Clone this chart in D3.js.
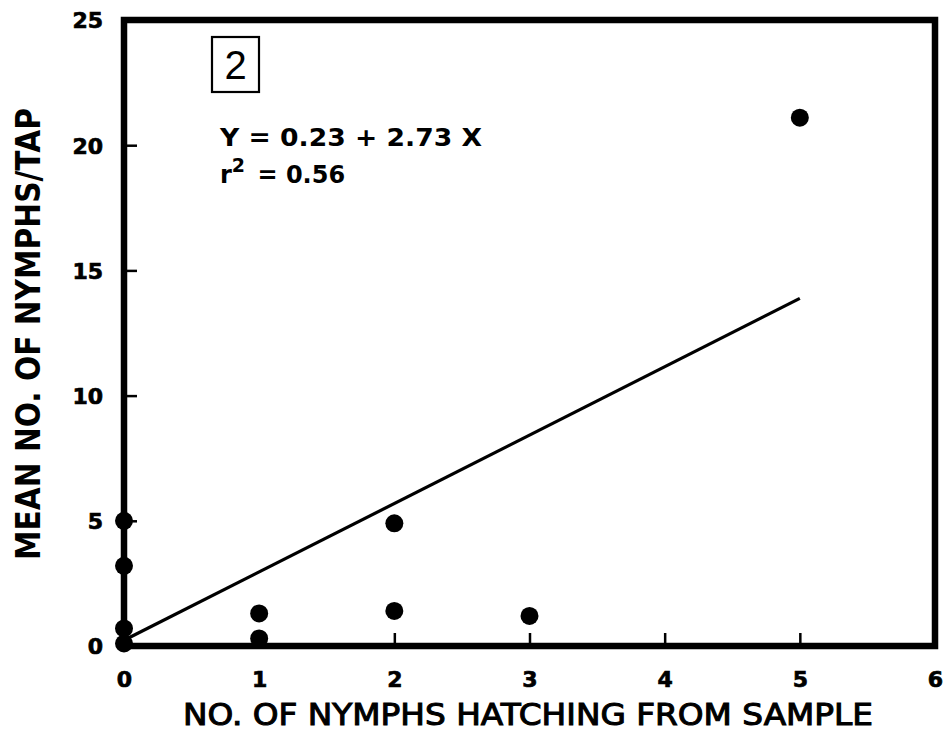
<!DOCTYPE html>
<html>
<head>
<meta charset="utf-8">
<script src="https://cdn.jsdelivr.net/npm/d3@7"></script>
<style>
  html, body { margin: 0; padding: 0; background: #fff; }
  svg { display: block; }
  text { fill: #000; }
</style>
</head>
<body>
<svg id="chart" width="944" height="735"></svg>
<script>
// Nymph counts: hatched from sample (x) vs mean nymphs per tap (y)
const hatched   = [0, 0, 0, 0, 1, 1, 2, 2, 3, 5];
const meanPerTap = [5.0, 3.2, 0.7, 0.1, 1.3, 0.3, 4.9, 1.4, 1.2, 21.1];
const xTicks = [0, 1, 2, 3, 4, 5, 6];
const yTicks = [0, 5, 10, 15, 20, 25];
// Fitted regression Y = a + b X, drawn over the observed range of X
const intercept = 0.23;
const slope = 2.73;
const fitRange = [0, 5];
const panelLabel = "2";
const equationLines = ["Y = 0.23 + 2.73 X", "r² = 0.56"];
const xTitle = "NO. OF NYMPHS HATCHING FROM SAMPLE";
const yTitle = "MEAN NO. OF NYMPHS/TAP";

const svg = d3.select("#chart");
const plotLeft = 124, plotRight = 935, plotTop = 20, plotBottom = 646;

const x = d3.scaleLinear().domain([0, 6]).range([plotLeft, plotRight]);
const y = d3.scaleLinear().domain([0, 25]).range([plotBottom, plotTop]);

const font = "'DejaVu Sans', 'Liberation Sans', sans-serif";

// Inward ticks on the bottom and left edges
const xAxis = d3.axisBottom(x).tickValues(xTicks).tickSize(-13).tickFormat(d3.format("d"));
const yAxis = d3.axisLeft(y).tickValues(yTicks).tickSize(-13).tickFormat(d3.format("d"));

const gx = svg.append("g").attr("transform", `translate(0,${plotBottom})`).call(xAxis);
const gy = svg.append("g").attr("transform", `translate(${plotLeft},0)`).call(yAxis);

[gx, gy].forEach(g => {
  g.attr("font-size", null).attr("font-family", null);
  g.select(".domain").remove();
  g.selectAll(".tick line").attr("stroke", "#000").attr("stroke-width", 2.5);
  g.selectAll(".tick text")
    .style("font-family", font)
    .style("font-weight", "bold")
    .style("font-size", "22px")
    .attr("stroke", "#000").attr("stroke-width", 0.7)
    .attr("fill", "#000");
});
gx.selectAll(".tick text").attr("dy", 0).attr("y", 41);
gx.selectAll(".tick line").filter(d => d === 0 || d === 6).remove();
gy.selectAll(".tick text").attr("x", -21).attr("dy", "0.36em");
gy.selectAll(".tick line").filter(d => d === 0 || d === 25).remove();

// Heavy plot frame
svg.append("rect")
  .attr("x", plotLeft).attr("y", plotTop)
  .attr("width", plotRight - plotLeft).attr("height", plotBottom - plotTop)
  .attr("fill", "none").attr("stroke", "#000").attr("stroke-width", 6.5);

// Regression line
svg.append("line")
  .attr("x1", x(fitRange[0])).attr("y1", y(intercept + slope * fitRange[0]))
  .attr("x2", x(fitRange[1])).attr("y2", y(intercept + slope * fitRange[1]))
  .attr("stroke", "#000").attr("stroke-width", 3.2);

// Observations
svg.append("g").selectAll("circle")
  .data(hatched.map((h, i) => ({ h, m: meanPerTap[i] })))
  .join("circle")
  .attr("cx", d => x(d.h))
  .attr("cy", d => y(d.m))
  .attr("r", 9)
  .attr("fill", "#000");

// Panel number in a box
svg.append("rect")
  .attr("x", 212).attr("y", 37).attr("width", 47).attr("height", 55)
  .attr("fill", "none").attr("stroke", "#000").attr("stroke-width", 2.2);
svg.append("text")
  .attr("x", 235.5).attr("y", 79)
  .attr("text-anchor", "middle")
  .attr("font-family", "'Liberation Sans', sans-serif")
  .attr("font-size", 40)
  .text(panelLabel);

// Regression equation
const eq = svg.append("text")
  .attr("font-family", font)
  .attr("font-weight", "bold")
  .attr("font-size", 24);
eq.append("tspan").attr("x", 220).attr("y", 146)
  .attr("textLength", 262).attr("lengthAdjust", "spacingAndGlyphs")
  .text(equationLines[0]);
const r2 = svg.append("text")
  .attr("x", 220).attr("y", 183)
  .attr("font-family", font)
  .attr("font-weight", "bold")
  .attr("font-size", 24);
r2.append("tspan").text("r");
r2.append("tspan").attr("dy", -11).attr("font-size", 19).text("2");
r2.append("tspan").attr("dy", 11).attr("dx", 4).text(" = 0.56");

// Axis titles
svg.append("text")
  .attr("x", 528).attr("y", 725)
  .attr("text-anchor", "middle")
  .attr("font-family", font)
  .attr("font-size", 31)
  .attr("stroke", "#000").attr("stroke-width", 1.1)
  .attr("textLength", 690).attr("lengthAdjust", "spacingAndGlyphs")
  .text(xTitle);

svg.append("text")
  .attr("transform", "translate(40,334) rotate(-90)")
  .attr("text-anchor", "middle")
  .attr("font-family", font)
  .attr("font-weight", "bold")
  .attr("font-size", 33)
  .attr("textLength", 452).attr("lengthAdjust", "spacingAndGlyphs")
  .text(yTitle);
</script>
</body>
</html>
